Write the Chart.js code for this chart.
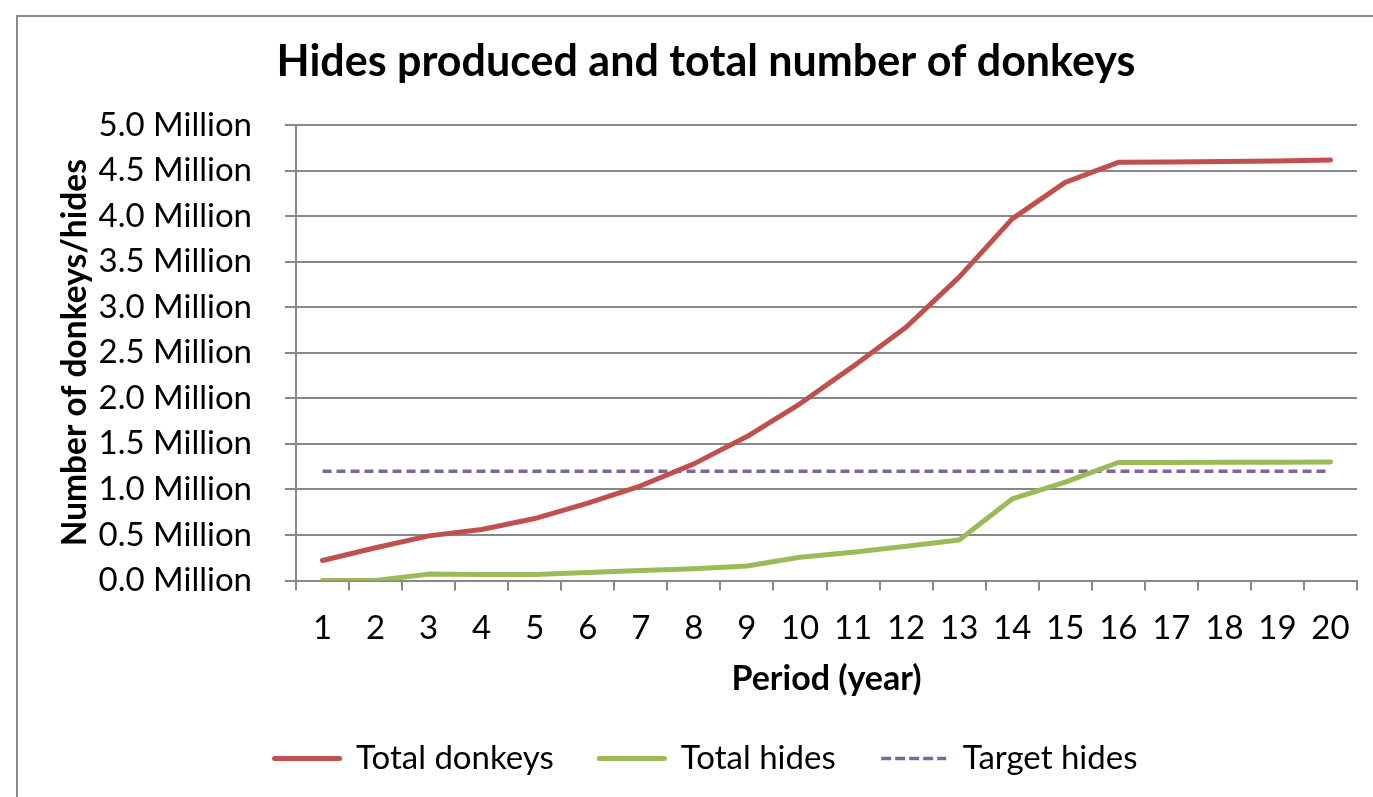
<!DOCTYPE html>
<html><head><meta charset="utf-8">
<script src="https://cdn.jsdelivr.net/npm/chart.js@4/dist/chart.umd.min.js"></script>
<style>
html,body{margin:0;padding:0;background:#fff;overflow:hidden;width:1373px;height:797px;}
#frame{position:absolute;left:16px;top:15px;width:1500px;height:900px;border:2px solid #8c8c8c;box-sizing:border-box;}
#wrap{position:absolute;left:0;top:0;width:1373px;height:785px;}
</style></head><body>
<div id="frame"></div>
<div id="wrap"><canvas id="c" width="1373" height="785"></canvas></div>
<script>
const chartTitle = 'Hides produced and total number of donkeys';
const xTitle = 'Period (year)';
const yTitle = 'Number of donkeys/hides';
const periods = ['1','2','3','4','5','6','7','8','9','10','11','12','13','14','15','16','17','18','19','20'];
const totalDonkeys = [0.22, 0.36, 0.49, 0.56, 0.68, 0.85, 1.04, 1.28, 1.58, 1.94, 2.35, 2.78, 3.33, 3.97, 4.37, 4.59, 4.595, 4.60, 4.605, 4.615];
const totalHides = [0.0, 0.0, 0.07, 0.065, 0.065, 0.088, 0.11, 0.13, 0.16, 0.255, 0.31, 0.375, 0.445, 0.895, 1.08, 1.295, 1.295, 1.297, 1.298, 1.30];
const targetHides = [1.2, 1.2, 1.2, 1.2, 1.2, 1.2, 1.2, 1.2, 1.2, 1.2, 1.2, 1.2, 1.2, 1.2, 1.2, 1.2, 1.2, 1.2, 1.2, 1.2];
const seriesNames = ['Total donkeys', 'Total hides', 'Target hides'];
const yMin = 0, yMax = 5, yStep = 0.5;
const yUnit = ' Million';

const FONT = 'Lato, "Open Sans", sans-serif';
const GRID = '#888888';

new Chart(document.getElementById('c'), {
  type: 'line',
  data: {
    labels: periods,
    datasets: [
      { label: seriesNames[0], data: totalDonkeys, borderColor: '#C0504D', backgroundColor: '#C0504D', borderWidth: 5, pointRadius: 0, borderCapStyle: 'round', borderJoinStyle: 'round', tension: 0 },
      { label: seriesNames[1], data: totalHides, borderColor: '#9BBB59', backgroundColor: '#9BBB59', borderWidth: 5, pointRadius: 0, borderCapStyle: 'round', borderJoinStyle: 'round', tension: 0 },
      { label: seriesNames[2], data: targetHides, borderColor: '#8064A2', backgroundColor: '#8064A2', borderWidth: 3.5, borderDash: [9, 5], pointRadius: 0, tension: 0 }
    ]
  },
  options: {
    responsive: false,
    animation: false,
    devicePixelRatio: 1,
    layout: { padding: { left: 55, right: 16, top: 0, bottom: 0 } },
    plugins: {
      title: {
        display: true, text: chartTitle, color: '#000',
        font: { family: FONT, size: 43, weight: 'bold' },
        padding: { top: 36.2, bottom: 37.2 }
      },
      legend: {
        position: 'bottom',
        labels: {
          color: '#000',
          font: { family: FONT, size: 33 },
          usePointStyle: true, pointStyle: 'line', pointStyleWidth: 65,
          padding: 45.5,
          generateLabels: (chart) => {
            const items = Chart.defaults.plugins.legend.labels.generateLabels(chart);
            items.forEach((it) => {
              const ds = chart.data.datasets[it.datasetIndex];
              it.pointStyle = 'line';
              it.strokeStyle = ds.borderColor;
              it.fillStyle = ds.borderColor;
              it.lineWidth = ds.borderWidth;
              it.lineDash = ds.borderDash ? [10, 4] : [];
              it.lineCap = ds.borderDash ? 'butt' : 'round';
            });
            return items;
          }
        }
      },
      tooltip: { enabled: false }
    },
    scales: {
      x: {
        offset: true,
        grid: { display: true, drawOnChartArea: false, drawTicks: true, tickLength: 10, offset: true, color: GRID, lineWidth: 2 },
        border: { display: true, color: GRID, width: 2 },
        ticks: { color: '#000', font: { family: FONT, size: 33 }, padding: 18.2, maxRotation: 0, autoSkip: false },
        title: { display: true, text: xTitle, color: '#000', font: { family: FONT, size: 34, weight: 'bold', lineHeight: 1.0 }, padding: { top: -4, bottom: 0 } }
      },
      y: {
        min: yMin, max: yMax,
        afterFit: (s) => { s.width = 241; },
        grid: { color: GRID, lineWidth: 2, drawTicks: true, tickLength: 11 },
        border: { display: true, color: GRID, width: 2 },
        ticks: { stepSize: yStep, color: '#000', font: { family: FONT, size: 33 }, padding: 33,
          callback: (v) => Number(v).toFixed(1) + yUnit },
        title: { display: true, text: yTitle, color: '#000', font: { family: FONT, size: 33.5, weight: 'bold' }, padding: { top: 0, bottom: 0 } }
      }
    }
  }
});
</script>
</body></html>
